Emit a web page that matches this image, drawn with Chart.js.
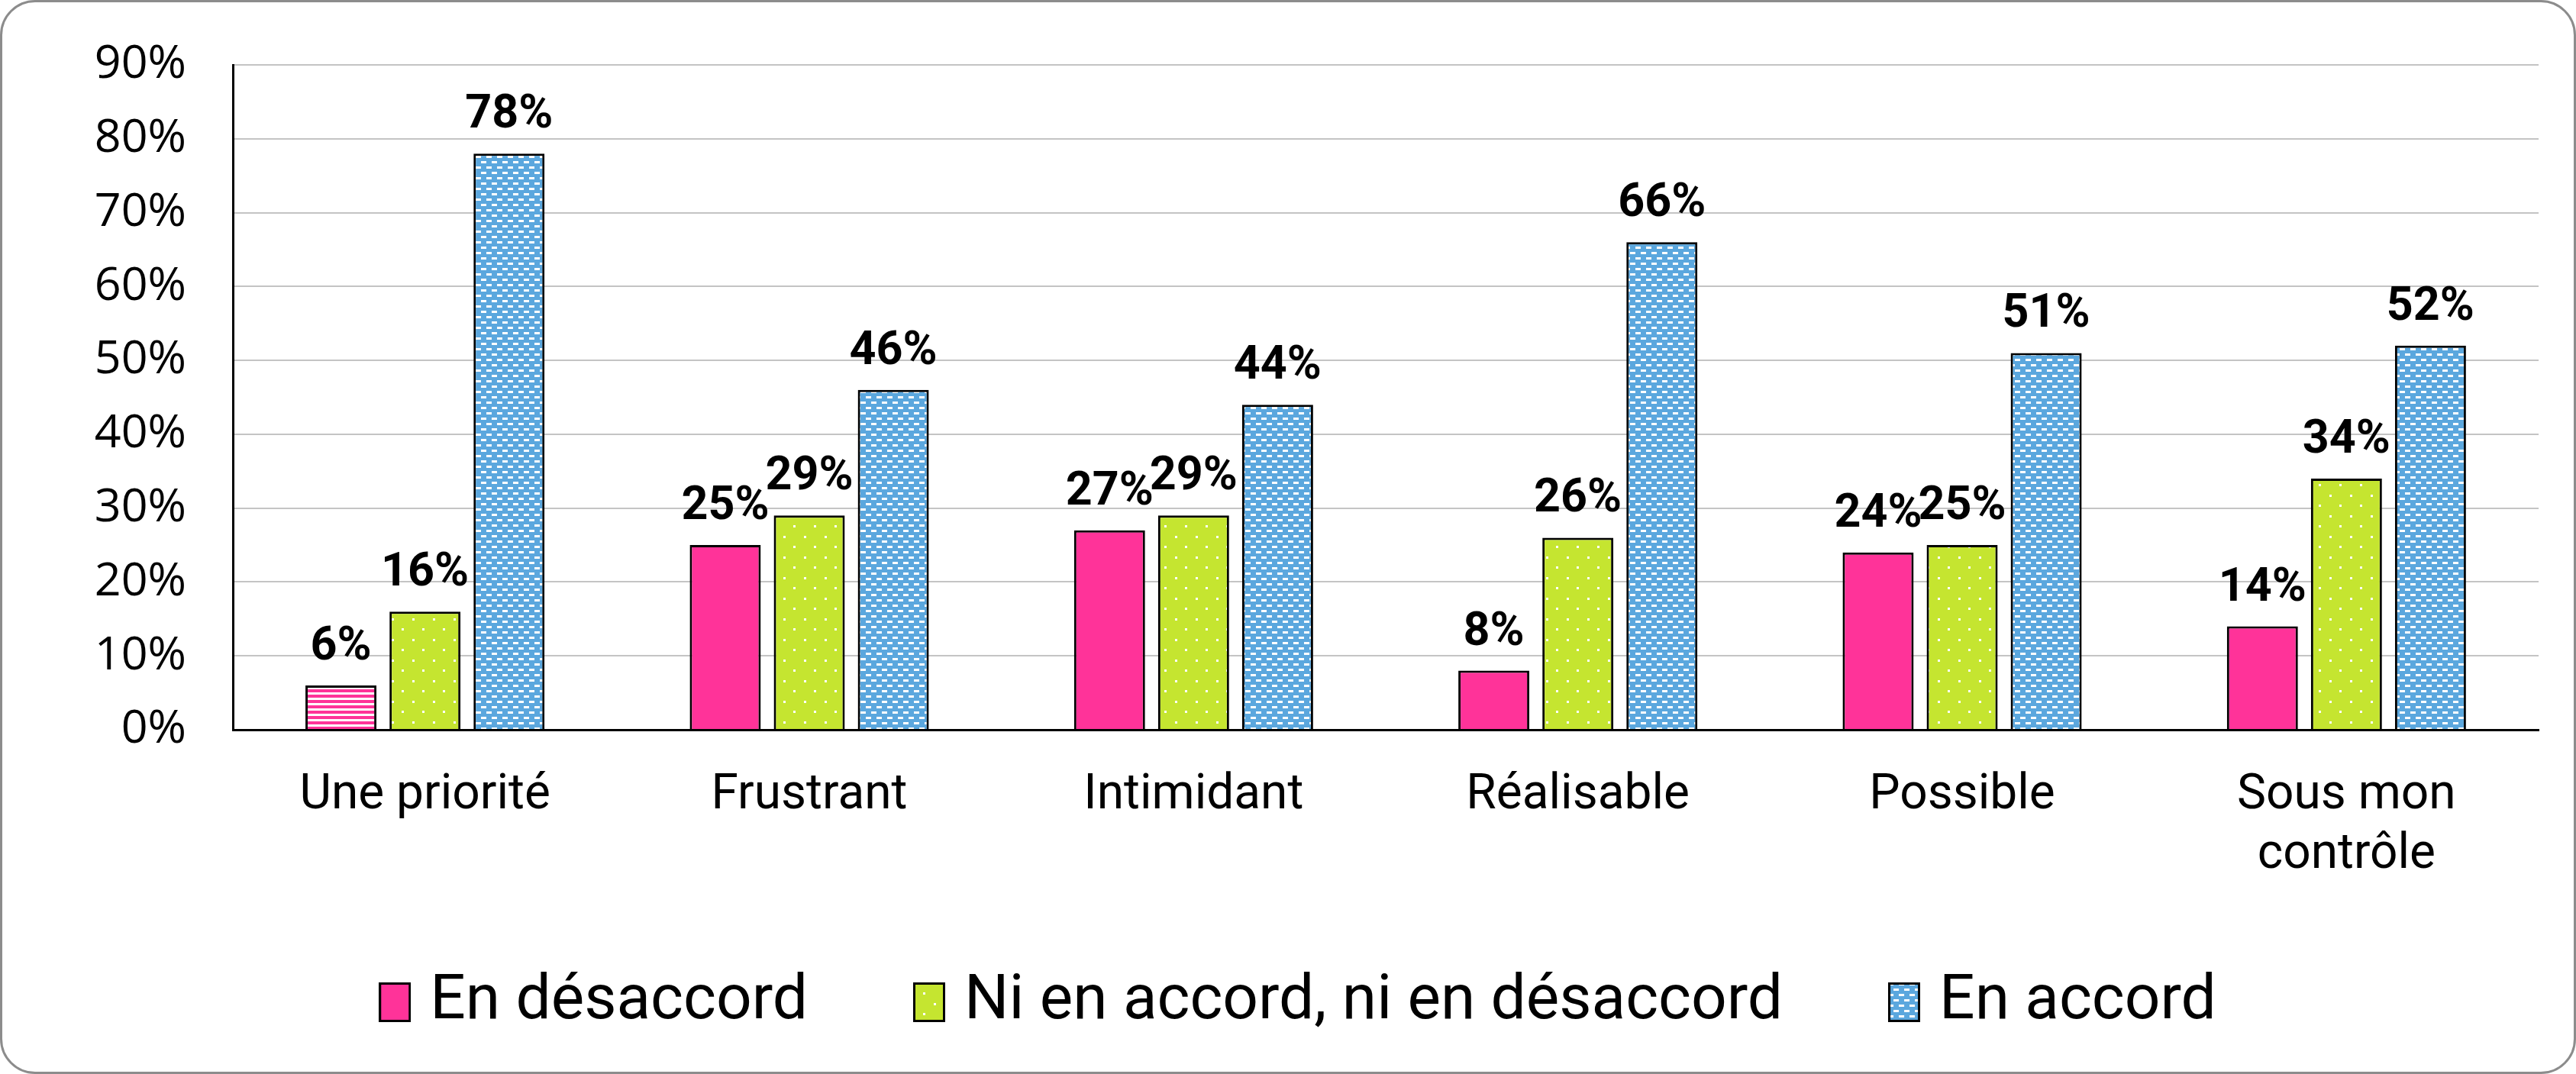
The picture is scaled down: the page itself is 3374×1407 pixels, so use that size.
<!DOCTYPE html>
<html>
<head>
<meta charset="utf-8">
<script src="https://cdn.jsdelivr.net/npm/chart.js@4.4.1/dist/chart.umd.min.js"></script>
<style>
  html, body { margin: 0; padding: 0; background: #ffffff; }
  #wrap { position: relative; width: 3374px; height: 1407px; overflow: hidden; }
  #wrap canvas { position: absolute; left: 0; top: 0; }
  #frame { position: absolute; left: 0; top: 0; width: 3374px; height: 1407px; box-sizing: border-box;
           border: 3px solid #8c8c8c; border-radius: 46px; pointer-events: none; }
</style>
</head>
<body>
<div id="wrap">
  <canvas id="c" width="3374" height="1407"></canvas>
  <div id="frame"></div>
</div>
<script>
// ---- data ----
const categories = ["Une priorité", "Frustrant", "Intimidant", "Réalisable", "Possible", ["Sous mon", "contrôle"]];
const seriesNames = ["En désaccord", "Ni en accord, ni en désaccord", "En accord"];
const desaccord = [6, 25, 27, 8, 24, 14];
const neutre = [16, 29, 29, 26, 25, 34];
const accord = [78, 46, 44, 66, 51, 52];
const yTicks = [0, 10, 20, 30, 40, 50, 60, 70, 80, 90];

// ---- colours / patterns ----
const PINK = "#FF3399";
const GREEN = "#C5E530";
const BLUE = "#5BA7DE";

function makeTile(w, h, draw) {
  const c = document.createElement("canvas");
  c.width = w; c.height = h;
  draw(c.getContext("2d"));
  return c;
}
function makePattern(w, h, draw) {
  const t = makeTile(w, h, draw);
  return t.getContext("2d").createPattern(t, "repeat");
}
const ctxMain = document.getElementById("c").getContext("2d");
const pinkStripes = makePattern(1, 7, g => {
  g.fillStyle = PINK; g.fillRect(0, 0, 1, 7);
  g.fillStyle = "#ffffff"; g.fillRect(0, 4, 1, 3);
});
const greenDots = makePattern(27, 27, g => {
  g.fillStyle = GREEN; g.fillRect(0, 0, 27, 27);
  g.fillStyle = "#ffffff";
  g.fillRect(0, 0, 3, 3);
  g.fillRect(13, 13, 3, 3);
});
const blueBricks = makePattern(14, 14, g => {
  g.fillStyle = BLUE; g.fillRect(0, 0, 14, 14);
  g.fillStyle = "#ffffff";
  g.fillRect(0, 1, 7, 3);
  g.fillRect(7, 8, 7, 3);
});

const pinkFills = desaccord.map((v, i) => i === 0 ? pinkStripes : PINK);

// legend swatches (box with black outline)
function swatch(fill) {
  return makeTile(42, 52, g => {
    g.fillStyle = fill; g.fillRect(0, 0, 42, 52);
    g.strokeStyle = "#000000"; g.lineWidth = 3; g.strokeRect(1.5, 1.5, 39, 49);
  });
}
const legendSwatches = [swatch(PINK), swatch(greenDots), swatch(blueBricks)];

// ---- data labels plugin ----
const dataLabels = {
  id: "dataLabels",
  afterDatasetsDraw(chart) {
    const ctx = chart.ctx;
    ctx.save();
    ctx.font = "bold 61px Roboto";
    ctx.fillStyle = "#000000";
    ctx.textAlign = "center";
    ctx.textBaseline = "alphabetic";
    chart.data.datasets.forEach((ds, di) => {
      const meta = chart.getDatasetMeta(di);
      meta.data.forEach((bar, i) => {
        ctx.fillText(ds.data[i] + "%", bar.x, bar.y - 34);
      });
    });
    ctx.restore();
  }
};

// fine placement of the legend block to match the reference
const legendShift = {
  id: "legendShift",
  afterLayout(chart) {
    if (chart.legend) {
      chart.legend.left += 45; chart.legend.right += 45;
      chart.legend.top -= 42;
    }
  }
};

new Chart(ctxMain, {
  type: "bar",
  data: {
    labels: categories,
    datasets: [
      { label: seriesNames[0], data: desaccord, backgroundColor: pinkFills },
      { label: seriesNames[1], data: neutre, backgroundColor: greenDots },
      { label: seriesNames[2], data: accord, backgroundColor: blueBricks }
    ]
  },
  options: {
    responsive: false,
    animation: false,
    devicePixelRatio: 1,
    datasets: {
      bar: {
        borderColor: "#000000",
        borderWidth: 3,
        categoryPercentage: 0.656,
        barPercentage: 0.845
      }
    },
    layout: { padding: { left: 0, right: 49, top: 85, bottom: 37 } },
    scales: {
      x: {
        grid: { display: false, drawTicks: false },
        border: { display: true, color: "#000000", width: 3 },
        ticks: {
          color: "#000000",
          font: { family: "Roboto", size: 64, lineHeight: 1.22 },
          padding: 48,
          maxRotation: 0,
          autoSkip: false
        },
        afterFit(scale) { scale.height = 204; }
      },
      y: {
        min: 0,
        max: 90,
        afterBuildTicks(scale) { scale.ticks = yTicks.map(v => ({ value: v })); },
        grid: { color: "#c4c4c4", lineWidth: 2, drawTicks: true, tickLength: 61, tickColor: "rgba(0,0,0,0)" },
        border: { display: true, color: "#000000", width: 3 },
        ticks: {
          color: "#000000",
          font: { family: "Open Sans", size: 61 },
          padding: 0,
          callback: v => v + "%"
        },
        afterFit(scale) { scale.width = 305; }
      }
    },
    plugins: {
      legend: {
        position: "bottom",
        maxHeight: 210,
        labels: {
          color: "#000000",
          font: { family: "Roboto", size: 82 },
          usePointStyle: true,
          boxWidth: 10,
          boxHeight: 52,
          padding: 154,
          generateLabels(chart) {
            return chart.data.datasets.map((ds, i) => ({
              text: ds.label,
              fillStyle: PINK,
              strokeStyle: "#000000",
              lineWidth: 0,
              pointStyle: legendSwatches[i],
              hidden: false,
              datasetIndex: i
            }));
          }
        }
      },
      tooltip: { enabled: false }
    }
  },
  plugins: [dataLabels, legendShift]
});
</script>
</body>
</html>
